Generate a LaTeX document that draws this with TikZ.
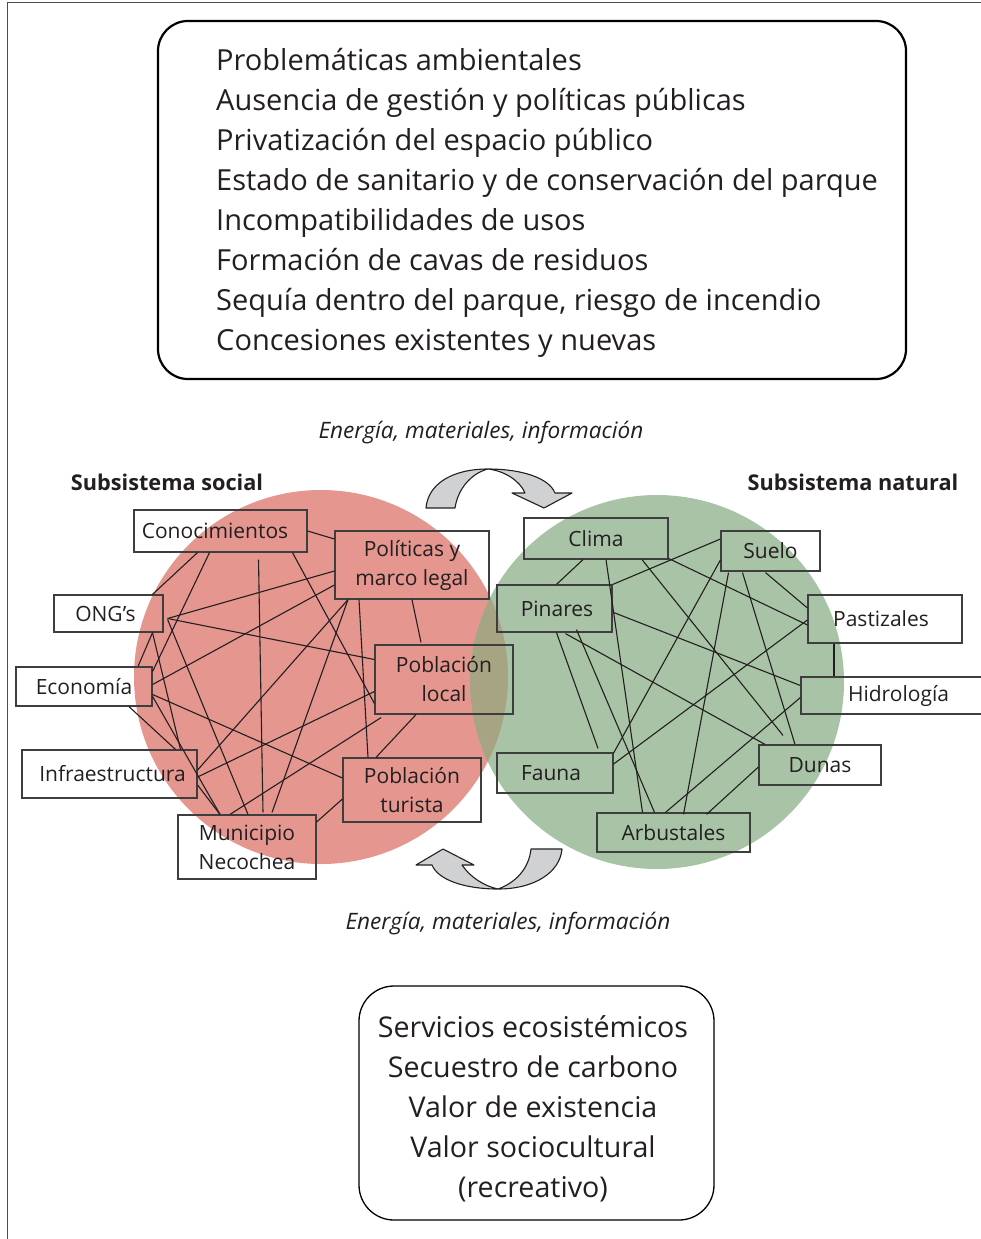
\documentclass[tikz,border=0pt]{standalone}
\usepackage{fontspec}
\setmainfont{Open Sans}
\definecolor{redc}{RGB}{228,150,143}
\definecolor{greenc}{RGB}{169,195,166}
\definecolor{overc}{RGB}{167,164,132}
\definecolor{linec}{RGB}{35,31,32}
\definecolor{boxc}{RGB}{62,62,62}
\definecolor{arrowc}{RGB}{208,209,211}
\definecolor{txtc}{RGB}{35,31,32}
\begin{document}
\begin{tikzpicture}[x=1pt,y=-1pt,
  bx/.style={draw=boxc, line width=1.2pt, inner sep=0pt, align=center,
     text=txtc, font=\fontsize{21}{29}\selectfont},
  ln/.style={draw=linec, line width=1.1pt},
  bigbox/.style={draw=black, rounded corners=30pt, inner sep=0pt},
  bigtxt/.style={text=txtc, font=\fontsize{29}{40}\selectfont, inner sep=0pt},
  flowlbl/.style={text=txtc, font=\fontsize{22.6}{26}\selectfont\itshape, inner sep=0pt},
  sublbl/.style={text=txtc, font=\fontsize{21.7}{26}\selectfont\bfseries, inner sep=0pt},
  curvearrow/.style={fill=arrowc, draw=linec, line width=1.1pt, line join=round}]
\useasboundingbox (0,0) rectangle (980,1239);
% frame
\draw[line width=1pt, black!70] (7,1250) -- (7,3) -- (990,3);

% top box
\node[bigbox, line width=2.2pt, minimum width=748, minimum height=358] (prob) at (532,200) {};
\node[bigtxt, anchor=west, align=left] (probtxt) at (216,203) {Problemáticas ambientales\\
Ausencia de gestión y políticas públicas\\
Privatización del espacio público\\
Estado de sanitario y de conservación del parque\\
Incompatibilidades de usos\\
Formación de cavas de residuos\\
Sequía dentro del parque, riesgo de incendio\\
Concesiones existentes y nuevas};

% flow labels
\node[flowlbl] (flowtop) at (481,433) {Energía, materiales, información};
\node[flowlbl] (flowbot) at (508,924) {Energía, materiales, información};
\node[sublbl] (subsoc) at (167,482) {Subsistema social};
\node[sublbl] (subnat) at (853,482) {Subsistema natural};

% circles
\fill[redc] (321,677) circle[radius=187];
\fill[greenc] (657,682) circle[radius=187];
\begin{scope}
  \clip (321,677) circle[radius=187];
  \fill[overc] (657,682) circle[radius=187];
\end{scope}

% curved arrows
\draw[curvearrow] (426,508) .. controls (428,484) and (452,469) .. (488,469)
  .. controls (522,469) and (549,478) .. (555,493) -- (572,493) -- (544,508) -- (512,493) -- (525,493)
  .. controls (520,481) and (505,471) .. (488,469)
  .. controls (472,473) and (458,488) .. (455,508) -- cycle;
\draw[curvearrow] (562,849) .. controls (560,872) and (535,889) .. (498,889)
  .. controls (465,889) and (438,880) .. (432,865) -- (416,865) -- (443,849) -- (474,865) -- (462,865)
  .. controls (470,877) and (484,886) .. (498,889)
  .. controls (515,883) and (529,869) .. (531,849) -- cycle;

% boxes: social
\node[bx, minimum width=173, minimum height=42] (con) at (220.5,531) {\hspace*{-11pt}Conocimientos};
\node[bx, minimum width=154, minimum height=68] (pol) at (412,565) {Políticas y\\marco legal};
\node[bx, minimum width=109, minimum height=37] (ong) at (108.5,613.5) {\hspace*{-6pt}ONG’s};
\node[bx, minimum width=136, minimum height=39] (eco) at (84,686.5) {Economía};
\node[bx, minimum width=138, minimum height=69] (ploc) at (444,679.5) {Población\\local};
\node[bx, minimum width=175, minimum height=48] (inf) at (109.5,774) {\hspace*{6pt}Infraestructura};
\node[bx, minimum width=138, minimum height=64] (ptur) at (412,790) {Población\\turista};
\node[bx, minimum width=138, minimum height=64] (mun) at (247,847) {Municipio\\Necochea};
% boxes: natural
\node[bx, minimum width=144, minimum height=41] (clima) at (596,538.5) {Clima};
\node[bx, minimum width=99, minimum height=40] (suelo) at (770.5,551) {Suelo};
\node[bx, minimum width=115, minimum height=47] (pin) at (554.5,608.5) {\hspace*{5pt}Pinares};
\node[bx, minimum width=154, minimum height=48] (past) at (885,619) {\hspace*{-8pt}Pastizales};
\node[bx, minimum width=189, minimum height=37] (hid) at (895.5,695.5) {\hspace*{6pt}Hidrología};
\node[bx, minimum width=116, minimum height=40] (fauna) at (555,773) {\hspace*{-8pt}Fauna};
\node[bx, minimum width=122, minimum height=40] (dunas) at (820,765) {Dunas};
\node[bx, minimum width=153, minimum height=39] (arb) at (673.5,832.5) {Arbustales};

% social connectors
\draw[ln] (con.east) -- ([shift={(0,-26)}]pol.west);
\draw[ln] ([shift={(-23,0)}]con.south) -- ([shift={(44,0)}]ong.north);
\draw[ln] ([shift={(-11,0)}]con.south) -- ([shift={(0,-15)}]eco.east);
\draw[ln] ([shift={(38,7)}]con.south) -- ([shift={(16,-2)}]mun.north);
\draw[ln] ([shift={(72,0)}]con.south) -- ([shift={(0,24)}]ploc.west);
\draw[ln] ([shift={(4,5)}]ong.east) -- ([shift={(0,6)}]pol.west);
\draw[ln] ([shift={(4,5)}]ong.east) -- ([shift={(0,-20)}]ploc.west);
\draw[ln] ([shift={(4,6)}]ong.east) -- ([shift={(1,0)}]mun.north);
\draw[ln] ([shift={(44,0)}]ong.south) -- ([shift={(54,0)}]eco.north);
\draw[ln] ([shift={(44,0)}]ong.south) -- ([shift={(71,0)}]inf.north);
\draw[ln] ([shift={(0,-2)}]eco.east) -- ([shift={(0,20)}]pol.west);
\draw[ln] ([shift={(0,8)}]eco.east) -- ([shift={(0,-12)}]ptur.west);
\draw[ln] ([shift={(0,10)}]eco.east) -- ([shift={(-27,0)}]mun.north);
\draw[ln] ([shift={(45,0)}]eco.south) -- ([shift={(66,0)}]inf.north);
\draw[ln] ([shift={(0,-4)}]inf.east) -- ([shift={(-64,0)}]pol.south);
\draw[ln] ([shift={(0,3)}]inf.east) -- ([shift={(0,12)}]ploc.west);
\draw[ln] ([shift={(0,11)}]inf.east) -- ([shift={(-27,0)}]mun.north);
\draw[ln] ([shift={(-53,0)}]pol.south) -- ([shift={(-44,0)}]ptur.north);
\draw[ln] (pol.south) -- ([shift={(-23,-2)}]ploc.north);
\draw[ln] ([shift={(-64,0)}]pol.south) -- ([shift={(25,-2)}]mun.north);
\draw[ln] ([shift={(-63,3)}]ploc.south) -- ([shift={(-17,0)}]mun.north);
\draw[ln] ([shift={(-28,0)}]ploc.south) -- ([shift={(-36,0)}]ptur.north);
\draw[ln] ([shift={(0,9)}]ptur.west) -- ([shift={(0,-25)}]mun.east);

% natural connectors
\draw[ln] ([shift={(-13,0)}]clima.south) -- ([shift={(2,0)}]pin.north);
\draw[ln] ([shift={(10,0)}]clima.south) -- ([shift={(-31,0)}]arb.north);
\draw[ln] ([shift={(46,0)}]clima.south) -- ([shift={(-37,-9)}]dunas.north);
\draw[ln] ([shift={(0,20)}]clima.east) -- ([shift={(0,6)}]past.west);
\draw[ln] ([shift={(0,-12)}]suelo.west) -- ([shift={(0,-24)}]pin.east);
\draw[ln] ([shift={(0,9)}]suelo.west) -- ([shift={(0,-20)}]fauna.east);
\draw[ln] ([shift={(-42,1)}]suelo.south) -- ([shift={(10,2)}]arb.north);
\draw[ln] ([shift={(-28,1)}]suelo.south) -- ([shift={(-25,0)}]dunas.north);
\draw[ln] ([shift={(-5,1)}]suelo.south) -- ([shift={(0,-11)}]past.west);
\draw[ln] ([shift={(1,4)}]pin.east) -- ([shift={(0,-10)}]hid.west);
\draw[ln] ([shift={(2,0)}]pin.south) -- ([shift={(43,-4)}]fauna.north);
\draw[ln] ([shift={(22,-3)}]pin.south) -- ([shift={(-19,0)}]arb.north);
\draw[ln] ([shift={(11,1)}]pin.south) -- ([shift={(-55,0)}]dunas.north);
\draw[ln] ([shift={(0,1)}]past.west) -- ([shift={(0,-9)}]fauna.east);
\draw[ln, line width=1.8pt] ([shift={(-51,0)}]past.south) -- ([shift={(-61.5,0)}]hid.north);
\draw[ln] ([shift={(0,2)}]hid.west) -- ([shift={(-8,0)}]arb.north);
\draw[ln] ([shift={(0,2)}]dunas.west) -- ([shift={(33,2)}]arb.north);

% bottom box
\node[bigbox, line width=1.3pt, rounded corners=35pt, minimum width=355, minimum height=234] (serv) at (536.5,1103) {};
\node[bigtxt, align=center, font=\fontsize{28.6}{40}\selectfont] (servtxt) at (533,1109)
  {Servicios ecosistémicos\\Secuestro de carbono\\Valor de existencia\\Valor sociocultural\\(recreativo)};
\end{tikzpicture}
\end{document}
